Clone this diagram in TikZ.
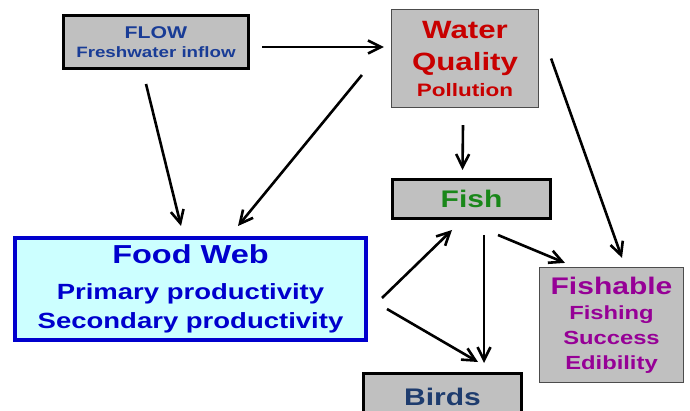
\documentclass[tikz,border=0pt]{standalone}
\usepackage{fontspec}
\setmainfont{Liberation Sans}[FakeStretch=1.25]
\usepackage{xcolor}
\usetikzlibrary{arrows.meta}

\definecolor{boxgray}{RGB}{192,192,192}
\definecolor{flowblue}{RGB}{25,60,150}
\definecolor{qualred}{RGB}{200,0,0}
\definecolor{fishgreen}{RGB}{25,135,25}
\definecolor{webblue}{RGB}{0,0,205}
\definecolor{webcyan}{RGB}{204,255,255}
\definecolor{fishpurple}{RGB}{150,0,150}
\definecolor{birdnavy}{RGB}{30,60,110}

\begin{document}
\begin{tikzpicture}[
  x=1pt, y=-1pt,
  thickbox/.style={rectangle, draw=black, line width=3pt, fill=boxgray, align=center, inner sep=0pt},
  thinbox/.style={rectangle, draw=black!70, line width=1.2pt, fill=boxgray, align=center, inner sep=0pt},
  webbox/.style={rectangle, draw=webblue, line width=4pt, fill=webcyan, align=center, inner sep=0pt},
  arrow/.style={line width=2.6pt, -{Straight Barb[length=13pt,width=13pt]}}
]
\useasboundingbox (0,0) rectangle (690,411);

\node (flow) [thickbox, minimum width=185pt, minimum height=53pt, text=flowblue,
  font=\bfseries\fontsize{15}{18.5}\selectfont] at (156,42)
  {{\fontsize{17}{18.5}\selectfont FLOW}\\ Freshwater inflow};
\node (quality) [thinbox, minimum width=147pt, minimum height=98pt, text=qualred,
  font=\bfseries\fontsize{25}{26}\selectfont] at (465,58.5)
  {Water\\[6pt] Quality\\ {\fontsize{18}{26}\selectfont Pollution}};
\node (fish) [thickbox, minimum width=158pt, minimum height=39pt, text=fishgreen,
  font=\bfseries\fontsize{24}{26}\selectfont] at (471.5,199) {Fish};
\node (web) [webbox, minimum width=351pt, minimum height=102pt, text=webblue,
  font=\bfseries\fontsize{22}{29}\selectfont] at (190.5,289)
  {{\fontsize{26}{29}\selectfont Food Web}\\[7pt] Primary productivity\\ Secondary productivity};
\node (fishable) [thinbox, minimum width=144pt, minimum height=115pt, text=fishpurple,
  font=\bfseries\fontsize{19}{25}\selectfont] at (611.5,325)
  {{\fontsize{24}{25}\selectfont Fishable}\\[0pt] Fishing\\ Success\\ Edibility};
\node (birds) [thickbox, minimum width=158pt, minimum height=47pt, text=birdnavy,
  font=\bfseries\fontsize{24}{26}\selectfont] at (442.5,397) {Birds};

\draw [arrow] ([xshift=12pt,yshift=-5pt]flow.east) -- ([xshift=-7pt,yshift=11.5pt]quality.west);
\draw [arrow] ([xshift=-10pt,yshift=-14pt]flow.south) -- ([xshift=-9.5pt,yshift=10pt]web.north);
\draw [arrow] ([xshift=-29pt,yshift=-16.5pt]quality.west) -- ([xshift=47.5pt,yshift=10pt]web.north);
\draw [arrow] ([xshift=-2pt,yshift=-17pt]quality.south) -- ([xshift=-9pt,yshift=8pt]fish.north);
\draw [arrow] ([xshift=12pt,yshift=0pt]quality.east) -- ([xshift=10.5pt,yshift=9pt]fishable.north);
\draw [arrow] ([xshift=14pt,yshift=-9pt]web.east) -- ([xshift=-19.5pt,yshift=-10pt]fish.south);
\draw [arrow] ([xshift=19pt,yshift=-20pt]web.east) -- ([xshift=35.5pt,yshift=10pt]birds.north);
\draw [arrow] ([xshift=12.5pt,yshift=-15pt]fish.south) -- ([xshift=41.5pt,yshift=9pt]birds.north);
\draw [arrow] ([xshift=26.5pt,yshift=-15pt]fish.south) -- ([xshift=-46.5pt,yshift=4pt]fishable.north);
\end{tikzpicture}
\end{document}
